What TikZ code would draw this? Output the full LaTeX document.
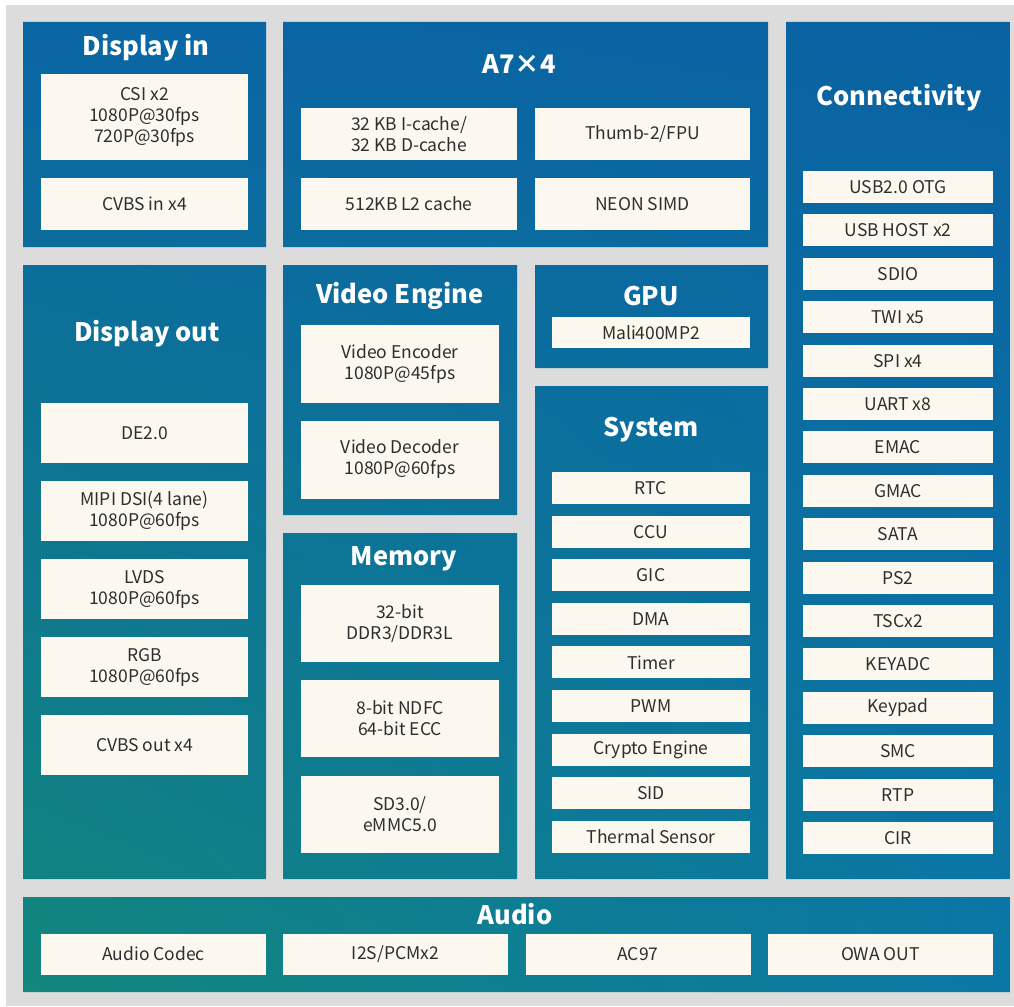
\documentclass[tikz,border=0pt]{standalone}
\usepackage{fontspec}
\setmainfont{Noto Sans CJK SC}
\usetikzlibrary{shadings}

\definecolor{chipgray}{HTML}{DCDCDC}
\definecolor{chipcream}{HTML}{FCF8EF}
\definecolor{chipink}{HTML}{2E2E2E}
\definecolor{chipblue}{HTML}{0A66A5}
\definecolor{chipbluer}{HTML}{0A62A2}
\definecolor{chipteal}{HTML}{12877C}
\definecolor{chipsea}{HTML}{0A78A6}

\tikzset{
  unit/.style={fill=chipcream, text=chipink, inner sep=0pt, align=center,
    font=\fontsize{17.5}{21}\selectfont},
  heading/.style={text=white, inner sep=0pt, font=\fontsize{25.5}{30}\selectfont\bfseries},
  leftbox/.style={unit, minimum width=207pt},
  midbox/.style={unit, minimum width=198pt},
  listbox/.style={unit, minimum width=198pt, minimum height=32pt},
  connbox/.style={unit, minimum width=190pt, minimum height=32pt},
  audiobox/.style={unit, minimum width=225pt, minimum height=41pt},
}

\begin{document}
\begin{tikzpicture}[x=1pt, y=-1pt]
        % Hintergrund
        \useasboundingbox (0,0) rectangle (1014,1006);
        \fill[white] (0,0) rectangle (1014,1006);
        \fill[chipgray] (6,5) rectangle (1014,1006);

        % Bloecke mit gemeinsamem Farbverlauf
        \begin{scope}
            \clip (23,22) rectangle (266,247)     % Display in
                  (283,22) rectangle (768,247)    % A7x4
                  (786,22) rectangle (1010,879)   % Connectivity
                  (23,265) rectangle (266,879)    % Display out
                  (283,265) rectangle (517,515)   % Video Engine
                  (535,265) rectangle (768,368)   % GPU
                  (283,533) rectangle (517,879)   % Memory
                  (535,386) rectangle (768,879)   % System
                  (23,897) rectangle (1010,992);  % Audio
            \shade[upper left=chipblue, upper right=chipbluer,
                   lower left=chipteal, lower right=chipsea] (23,22) rectangle (1010,992);
        \end{scope}

        % Display in
        \node[heading] (dispin) at (146,48) {Display in};
        \node[leftbox, minimum height=86pt] (csi) at (144.5,117) {CSI x2\\1080P@30fps\\720P@30fps};
        \node[leftbox, minimum height=52pt] (cvbsin) at (144.5,204) {CVBS in x4};

        % A7 x 4
        \node[heading] (cpu) at (519,64) {A7×4};
        \node[unit, minimum width=216pt, minimum height=52pt] (cache) at (409,134) {32 KB I-cache/\\32 KB D-cache};
        \node[unit, minimum width=215pt, minimum height=52pt] (thumb) at (642.5,134) {Thumb-2/FPU};
        \node[unit, minimum width=216pt, minimum height=52pt] (ltwo) at (409,204) {512KB L2 cache};
        \node[unit, minimum width=215pt, minimum height=52pt] (neon) at (642.5,204) {NEON SIMD};

        % Connectivity
        \node[heading] (conn) at (899,98) {Connectivity};
        \node[connbox] (otg) at (898,187) {USB2.0 OTG};
        \node[connbox] (host) at (898,230.4) {USB HOST x2};
        \node[connbox] (sdio) at (898,273.8) {SDIO};
        \node[connbox] (twi) at (898,317.2) {TWI x5};
        \node[connbox] (spi) at (898,360.6) {SPI x4};
        \node[connbox] (uart) at (898,404) {UART x8};
        \node[connbox] (emac) at (898,447.4) {EMAC};
        \node[connbox] (gmac) at (898,490.8) {GMAC};
        \node[connbox] (sata) at (898,534.2) {SATA};
        \node[connbox] (ps2) at (898,577.6) {PS2};
        \node[connbox] (tsc) at (898,621) {TSCx2};
        \node[connbox] (keyadc) at (898,664.4) {KEYADC};
        \node[connbox] (keypad) at (898,707.8) {Keypad};
        \node[connbox] (smc) at (898,751.2) {SMC};
        \node[connbox] (rtp) at (898,794.6) {RTP};
        \node[connbox] (cir) at (898,838) {CIR};

        % Display out
        \node[heading] (dispout) at (147,334) {Display out};
        \node[leftbox, minimum height=60pt] (de) at (144.5,433) {DE2.0};
        \node[leftbox, minimum height=60pt] (mipi) at (144.5,511) {MIPI DSI(4 lane)\\1080P@60fps};
        \node[leftbox, minimum height=60pt] (lvds) at (144.5,589) {LVDS\\1080P@60fps};
        \node[leftbox, minimum height=60pt] (rgb) at (144.5,667) {RGB\\1080P@60fps};
        \node[leftbox, minimum height=60pt] (cvbsout) at (144.5,745) {CVBS out x4};

        % Video Engine
        \node[heading] (video) at (400,296) {Video Engine};
        \node[midbox, minimum height=78pt] (venc) at (400,364) {Video Encoder\\1080P@45fps};
        \node[midbox, minimum height=78pt] (vdec) at (400,459.5) {Video Decoder\\1080P@60fps};

        % GPU
        \node[heading] (gpu) at (651,296) {GPU};
        \node[midbox, minimum height=31pt] (mali) at (651,332.5) {Mali400MP2};

        % Memory
        \node[heading] (mem) at (404,559) {Memory};
        \node[midbox, minimum height=77pt] (ddr) at (400,623.5) {32-bit\\DDR3/DDR3L};
        \node[midbox, minimum height=77pt] (ndfc) at (400,718.5) {8-bit NDFC\\64-bit ECC};
        \node[midbox, minimum height=77pt] (emmc) at (400,814) {SD3.0/\\eMMC5.0};

        % System
        \node[heading] (sys) at (651,430) {System};
        \node[listbox] (rtc) at (651,488) {RTC};
        \node[listbox] (ccu) at (651,531.6) {CCU};
        \node[listbox] (gic) at (651,575.2) {GIC};
        \node[listbox] (dma) at (651,618.8) {DMA};
        \node[listbox] (timer) at (651,662.4) {Timer};
        \node[listbox] (pwm) at (651,706) {PWM};
        \node[listbox] (crypto) at (651,749.6) {Crypto Engine};
        \node[listbox] (sid) at (651,793.2) {SID};
        \node[listbox] (thermal) at (651,836.8) {Thermal Sensor};

        % Audio
        \node[heading] (audio) at (515,914) {Audio};
        \node[audiobox] (codec) at (153.5,954) {Audio Codec};
        \node[audiobox] (itwos) at (395.5,954) {I2S/PCMx2};
        \node[audiobox] (ac) at (638,954) {AC97};
        \node[audiobox] (owa) at (880.5,954) {OWA OUT};
    \end{tikzpicture}
\end{document}
